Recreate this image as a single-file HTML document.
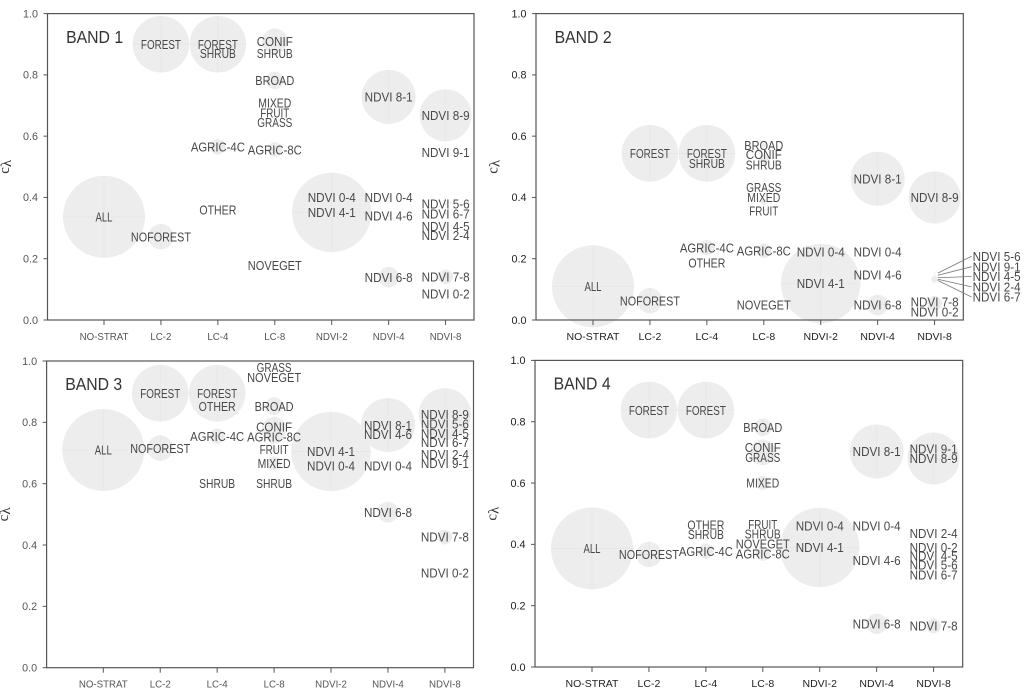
<!DOCTYPE html>
<html>
<head>
<meta charset="utf-8">
<title>Band charts</title>
<style>
html,body{margin:0;padding:0;background:#fff;width:1024px;height:693px;overflow:hidden}
svg{display:block;font-family:"Liberation Sans",sans-serif}
</style>
</head>
<body>
<svg id="chart" xmlns="http://www.w3.org/2000/svg" width="1024" height="693" viewBox="0 0 1024 693"></svg>
<script>
const categories = ['NO-STRAT','LC-2','LC-4','LC-8','NDVI-2','NDVI-4','NDVI-8'];
const yTicks = [0,0.2,0.4,0.6,0.8,1.0];
const bandTitles = ['BAND 1','BAND 2','BAND 3','BAND 4'];

const strata = [0, 1,1, 2,2,2,2, 3,3,3,3,3,3,3,3, 4,4, 5,5,5,5, 6,6,6,6,6,6,6,6];
const labels = ['ALL','FOREST','NOFOREST','FOREST','SHRUB','AGRIC-4C','OTHER','CONIF','SHRUB','BROAD','MIXED','FRUIT','GRASS','AGRIC-8C','NOVEGET','NDVI 0-4','NDVI 4-1','NDVI 8-1','NDVI 0-4','NDVI 4-6','NDVI 6-8','NDVI 8-9','NDVI 9-1','NDVI 5-6','NDVI 6-7','NDVI 4-5','NDVI 2-4','NDVI 7-8','NDVI 0-2'];

const band1Sizes = [100, 47.6,9.6, 47.6,0.1,3.5,0.1, 9.6,0.1,4.6,0.1,0.1,0.1,3.1,0.1, 0.1,93.8, 43.4,0.1,0.1,6.3, 40.2,0.1,0.1,0.1,0.1,0.1,3.2,0.1];
const band2Sizes = [100, 47.6,9.6, 47.6,0.1,3.5,0.1, 1.5,0.1,0.3,0.6,0.1,0.1,3.1,0.1, 0.1,93.8, 43.4,0.1,0.1,6.3, 40.2,0.05,0.05,0.05,0.05,0.7,3.2,0.1];
const band3Sizes = [100, 47.6,9.6, 47.6,0.1,3.5,0.1, 9.6,0.1,4.6,2.9,0.5,0.1,3.1,0.1, 0.1,93.8, 43.4,0.1,0.1,6.3, 40.2,0.1,0.1,0.1,0.1,0.1,3.2,0.1];
const band4Sizes = [100, 47.6,9.6, 47.6,0.1,3.5,0.1, 9.6,0.1,4.6,2.9,0.1,0.1,3.1,0.1, 0.1,93.8, 43.4,0.1,0.1,6.3, 40.2,0.1,0.1,0.1,0.1,0.1,3.2,0.1];

const band1Values = [0.337, 0.90,0.272, 0.90,0.87,0.565,0.359, 0.91,0.87,0.782,0.709,0.677,0.645,0.556,0.178, 0.40,0.351, 0.728,0.40,0.34,0.14, 0.668,0.547,0.379,0.347,0.305,0.276,0.141,0.085];
const band2Values = [0.11, 0.544,0.063, 0.544,0.511,0.236,0.186, 0.525,0.506,0.57,0.385,0.356,0.433,0.226,0.049, 0.223,0.119, 0.461,0.223,0.148,0.049, 0.40,0.146,0.153,0.129,0.138,0.133,0.055,0.026];
const band3Values = [0.71, 0.895,0.716, 0.895,0.602,0.755,0.853, 0.776,0.602,0.853,0.666,0.712,0.979,0.753,0.947, 0.659,0.705, 0.791,0.659,0.761,0.507, 0.827,0.666,0.796,0.735,0.765,0.695,0.426,0.31];
const band4Values = [0.387, 0.838,0.367, 0.838,0.433,0.378,0.464, 0.70,0.435,0.782,0.60,0.465,0.684,0.37,0.402, 0.461,0.39, 0.703,0.461,0.348,0.141, 0.68,0.711,0.334,0.30,0.362,0.436,0.134,0.39];

/* label offset from the bubble centre, in value units */
const band1LabelShift = [0, 0,0, 0,0,0,0, 0,0,0,0,0,0,0,0, 0,0, 0,0,0,0, 0,0,0,0,0,0,0,0];
const band2LabelShift = [0, 0,0, 0,0,0,0, 0.015,0,0,0.015,0,0,0,0, 0,0, 0,0,0,0, 0,0,0,0,0,0,0.004,0];
const band3LabelShift = [0, 0,0, 0,0,0,0, 0.009,0,0,0,0,0,0,0, 0,0, 0,0,0,0, 0,0,0,0,0,0,0,0];
const band4LabelShift = [0, 0,0, 0,0,0,0, 0.016,0,0,0,0,0,0,0, 0,0, 0,0,0,0, 0,0,0,0,0,0,0,0];

/* Band 2 labels pulled out of the plot with leader lines */
const band2CalloutNames = ['NDVI 5-6','NDVI 9-1','NDVI 4-5','NDVI 2-4','NDVI 6-7'];
const band2CalloutValues = [0.208,0.174,0.142,0.108,0.075];

const NS = 'http://www.w3.org/2000/svg';
const svg = document.getElementById('chart');
const labelWidth = {'ALL':17,'FOREST':40,'NOFOREST':60,'SHRUB':36,'AGRIC-4C':54,'AGRIC-8C':54,'OTHER':37,'CONIF':36,'BROAD':39,'MIXED':33,'FRUIT':29,'GRASS':35,'NOVEGET':54};

function make(parent, tag, attrs, txt){
  const el = document.createElementNS(NS, tag);
  for (const k in attrs) el.setAttribute(k, attrs[k]);
  if (txt !== undefined) el.textContent = txt;
  parent.appendChild(el);
  return el;
}
function slug(s){ return String(s).toLowerCase().replace(/[^a-z0-9]+/g,'-'); }

function drawPanel(p, title, values, sizes, shifts, calloutNames, calloutValues){
  const x = c => p.cat0 + c * 56.93;
  const y = v => p.bottom - v * (p.bottom - p.top);
  const r = s => 41 * Math.sqrt(s / 100);

  const g = make(svg, 'g', {});
  
  

  values.forEach((v, i) => {
    const cx = x(strata[i]), cy = y(v), rad = r(sizes[i]);
    const c = make(g, 'circle', {cx: cx, cy: cy, r: rad, fill: '#ededed'});
    
    
    if (rad > 5) {
      make(g, 'path', {d: 'M' + (cx - rad) + ' ' + cy + 'H' + (cx + rad) + 'M' + cx + ' ' + (cy - rad) + 'V' + (cy + rad), stroke: '#e5e5e5', 'stroke-width': 0.7, fill: 'none'});
    }
  });

  const frame = make(g, 'rect', {x: p.left, y: p.top, width: p.right - p.left, height: p.bottom - p.top, fill: 'none', stroke: '#555', 'stroke-width': 1.2});
  
  

  yTicks.forEach(t => {
    make(g, 'line', {x1: p.left - 4, x2: p.left, y1: y(t), y2: y(t), stroke: '#555', 'stroke-width': 1});
    const tl = make(g, 'text', {x: p.left - 9.5, y: y(t) + 3.8, 'text-anchor': 'end', 'font-size': 10.8, fill: p.tickColor}, t.toFixed(1));
    
    
  });

  categories.forEach((cat, i) => {
    make(g, 'line', {x1: x(i), x2: x(i), y1: p.bottom, y2: p.bottom + 5, stroke: '#555', 'stroke-width': 1});
    const tl = make(g, 'text', {x: x(i), y: p.bottom + 20, 'text-anchor': 'middle', 'font-size': p.catSize, fill: p.tickColor}, cat);
    
    
  });

  const yCx = p.left - 38.5, yCy = (p.top + p.bottom) / 2;
  const yt = make(g, 'text', {x: yCx, y: yCy, transform: 'rotate(-90 ' + yCx + ' ' + yCy + ')', 'text-anchor': 'middle', 'font-size': 15, fill: '#333', 'font-family': '"Liberation Serif",serif'});
  
  
  make(yt, 'tspan', {}, 'c');
  make(yt, 'tspan', {'font-size': 15, dy: 2}, 'λ');

  const tt = make(g, 'text', {x: p.left + 18.6, y: p.top + 29.2, 'font-size': 17.5, fill: '#333', textLength: 57, lengthAdjust: 'spacingAndGlyphs'}, title);
  
  

  values.forEach((v, i) => {
    const name = labels[i];
    const w = labelWidth[name] || 48;
    const ci = strata[i] === 6 ? calloutNames.indexOf(name) : -1;
    let tx = x(strata[i]), ty = y(v + shifts[i]), anchor = 'middle';
    if (ci >= 0) {
      const sx = tx + 3.3, ex = tx + 37, ey = y(calloutValues[ci]);
      const ln = make(g, 'line', {x1: sx, y1: y(v), x2: ex, y2: ey, stroke: '#777', 'stroke-width': 0.8});
      
      
      tx = ex + 1; ty = ey; anchor = 'start';
    }
    const t = make(g, 'text', {x: tx, y: ty + 4.7, 'text-anchor': anchor, 'font-size': 13, fill: '#484848', textLength: w, lengthAdjust: 'spacingAndGlyphs'}, name);
    
    
  });
}

drawPanel({left:47.5,right:474,top:13.6,bottom:320,cat0:104,tickColor:'#555',catSize:9.7}, bandTitles[0], band1Values, band1Sizes, band1LabelShift, [], []);
drawPanel({left:536,right:963.3,top:13.6,bottom:320,cat0:593,tickColor:'#222',catSize:10.5}, bandTitles[1], band2Values, band2Sizes, band2LabelShift, band2CalloutNames, band2CalloutValues);
drawPanel({left:46.6,right:473.5,top:361,bottom:667.7,cat0:103.3,tickColor:'#555',catSize:9.7}, bandTitles[2], band3Values, band3Sizes, band3LabelShift, [], []);
drawPanel({left:535,right:962.7,top:360.4,bottom:667,cat0:592,tickColor:'#222',catSize:10.5}, bandTitles[3], band4Values, band4Sizes, band4LabelShift, [], []);
</script>
</body>
</html>
